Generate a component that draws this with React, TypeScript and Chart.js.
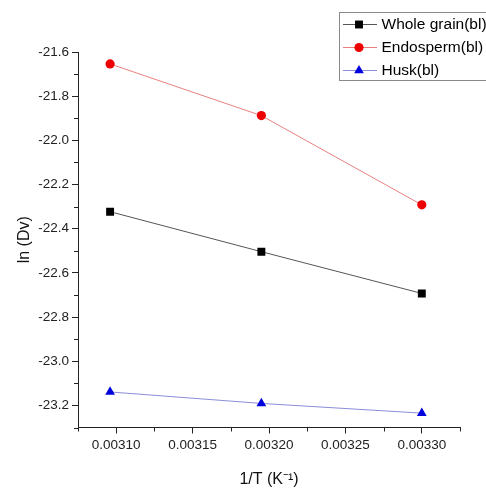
import React, { useEffect, useRef } from "react";
import { Chart, registerables } from "chart.js";

Chart.register(...registerables);

// ---- data ----
const xValues = [0.003096, 0.003195, 0.0033];
const wholeGrain = [-22.323, -22.504, -22.693];
const endosperm = [-21.654, -21.888, -22.292];
const husk = [-23.139, -23.191, -23.235];

const seriesNames = ["Whole grain(bl)", "Endosperm(bl)", "Husk(bl)"];

const xMajorTicks = [0.0031, 0.00315, 0.0032, 0.00325, 0.0033];
const xMinorTicks = [0.003075, 0.003125, 0.003175, 0.003225, 0.003275, 0.003325];
const yMajorTicks = [-21.6, -21.8, -22.0, -22.2, -22.4, -22.6, -22.8, -23.0, -23.2];
const yMinorTicks = [-21.7, -21.9, -22.1, -22.3, -22.5, -22.7, -22.9, -23.1, -23.3];

const xTitle = "1/T (K\u207B\u00B9)";
const yTitle = "ln (Dv)";

const FONT = "'Liberation Sans', Arial, sans-serif";

const styles = [
  { line: "#555555", fill: "#000000", point: "rect", radius: 5.6 },
  { line: "#e88080", fill: "#ee0000", point: "circle", radius: 4.6 },
  { line: "#8c8cd8", fill: "#0000dd", point: "triangle", radius: 5.6 },
];

function drawMarker(ctx: CanvasRenderingContext2D, kind: string, x: number, y: number, r: number, color: string) {
  ctx.save();
  ctx.fillStyle = color;
  ctx.beginPath();
  if (kind === "rect") {
    const s = r * Math.SQRT1_2;
    ctx.rect(x - s, y - s, 2 * s, 2 * s);
  } else if (kind === "circle") {
    ctx.arc(x, y, r, 0, Math.PI * 2);
  } else {
    ctx.moveTo(x, y - r);
    ctx.lineTo(x + r * Math.sin((2 * Math.PI) / 3), y - r * Math.cos((2 * Math.PI) / 3));
    ctx.lineTo(x + r * Math.sin((4 * Math.PI) / 3), y - r * Math.cos((4 * Math.PI) / 3));
    ctx.closePath();
  }
  ctx.fill();
  ctx.restore();
}

const extrasPlugin = {
  id: "extras",
  afterDraw(chart: any) {
    const ctx: CanvasRenderingContext2D = chart.ctx;
    const xs = chart.scales.x;
    const ys = chart.scales.y;
    const area = chart.chartArea;
    ctx.save();
    ctx.strokeStyle = "#222";
    ctx.lineWidth = 1;
    ctx.beginPath();
    xMinorTicks.forEach((v) => {
      const px = Math.round(xs.getPixelForValue(v)) + 0.5;
      ctx.moveTo(px, area.bottom);
      ctx.lineTo(px, area.bottom + 4);
    });
    yMinorTicks.forEach((v) => {
      const py = Math.round(ys.getPixelForValue(v)) + 0.5;
      ctx.moveTo(area.left - 4, py);
      ctx.lineTo(area.left, py);
    });
    ctx.stroke();

    // legend
    const bx = 339.5;
    const by = 12.5;
    ctx.fillStyle = "#ffffff";
    ctx.fillRect(bx, by, 200, 68);
    ctx.strokeStyle = "#8a8a8a";
    ctx.strokeRect(bx, by, 200, 68);
    const rows = [24, 47, 70];
    ctx.font = `15.5px ${FONT}`;
    ctx.textBaseline = "middle";
    ctx.textAlign = "left";
    seriesNames.forEach((name, i) => {
      const st = styles[i];
      const y = rows[i];
      ctx.strokeStyle = st.line;
      ctx.beginPath();
      ctx.moveTo(343, y + 0.5);
      ctx.lineTo(377, y + 0.5);
      ctx.stroke();
      drawMarker(ctx, st.point, 359, y + 0.5, st.radius, st.fill);
      ctx.fillStyle = "#000";
      ctx.fillText(name, 381.5, y + 1);
    });
    ctx.restore();
  },
};

export default function App() {
  const canvasRef = useRef<HTMLCanvasElement | null>(null);

  useEffect(() => {
    const canvas = canvasRef.current;
    if (!canvas) return;
    const seriesData = [wholeGrain, endosperm, husk];
    const chart = new Chart(canvas, {
      type: "line",
      data: {
        datasets: seriesData.map((vals, i) => ({
          label: seriesNames[i],
          data: vals.map((v, j) => ({ x: xValues[j], y: v })),
          borderColor: styles[i].line,
          borderWidth: 1,
          backgroundColor: styles[i].fill,
          pointBackgroundColor: styles[i].fill,
          pointBorderColor: styles[i].fill,
          pointBorderWidth: 0,
          pointStyle: styles[i].point as any,
          pointRadius: styles[i].radius,
          tension: 0,
          fill: false,
        })),
      },
      options: {
        animation: false,
        responsive: true,
        maintainAspectRatio: false,
        layout: { padding: { left: 0, top: 52, right: 26, bottom: 0 } },
        plugins: {
          legend: { display: false },
          tooltip: { enabled: false },
        },
        scales: {
          x: {
            type: "linear",
            min: 0.003075,
            max: 0.003325,
            afterBuildTicks: (scale: any) => {
              scale.ticks = xMajorTicks.map((v) => ({ value: v }));
            },
            afterFit: (scale: any) => {
              scale.height = 61.5;
            },
            ticks: {
              callback: (v: any) => Number(v).toFixed(5),
              font: { family: FONT, size: 13.5 },
              color: "#222",
              padding: 4,
              maxRotation: 0,
              autoSkip: false,
            },
            grid: {
              display: true,
              drawOnChartArea: false,
              drawTicks: true,
              tickLength: 6,
              tickColor: "#222",
            },
            border: { display: true, color: "#222", width: 1 },
            title: {
              display: true,
              text: xTitle,
              font: { family: FONT, size: 16 },
              color: "#111",
              padding: { top: 0, bottom: 0 },
            },
          },
          y: {
            type: "linear",
            min: -23.3,
            max: -21.6,
            afterBuildTicks: (scale: any) => {
              scale.ticks = yMajorTicks.map((v) => ({ value: v }));
            },
            afterFit: (scale: any) => {
              scale.width = 78;
            },
            ticks: {
              callback: (v: any) => Number(v).toFixed(1),
              font: { family: FONT, size: 13.5 },
              color: "#222",
              padding: 3,
              autoSkip: false,
            },
            grid: {
              display: true,
              drawOnChartArea: false,
              drawTicks: true,
              tickLength: 6,
              tickColor: "#222",
            },
            border: { display: true, color: "#222", width: 1 },
            title: {
              display: true,
              text: yTitle,
              font: { family: FONT, size: 16 },
              color: "#111",
              padding: { top: 15, bottom: 0 },
            },
          },
        },
      },
      plugins: [extrasPlugin],
    });
    return () => chart.destroy();
  }, []);

  return (
    <div style={{ position: "fixed", left: 0, top: 0, width: 486, height: 489, background: "#fff" }}>
      <canvas ref={canvasRef} />
    </div>
  );
}
